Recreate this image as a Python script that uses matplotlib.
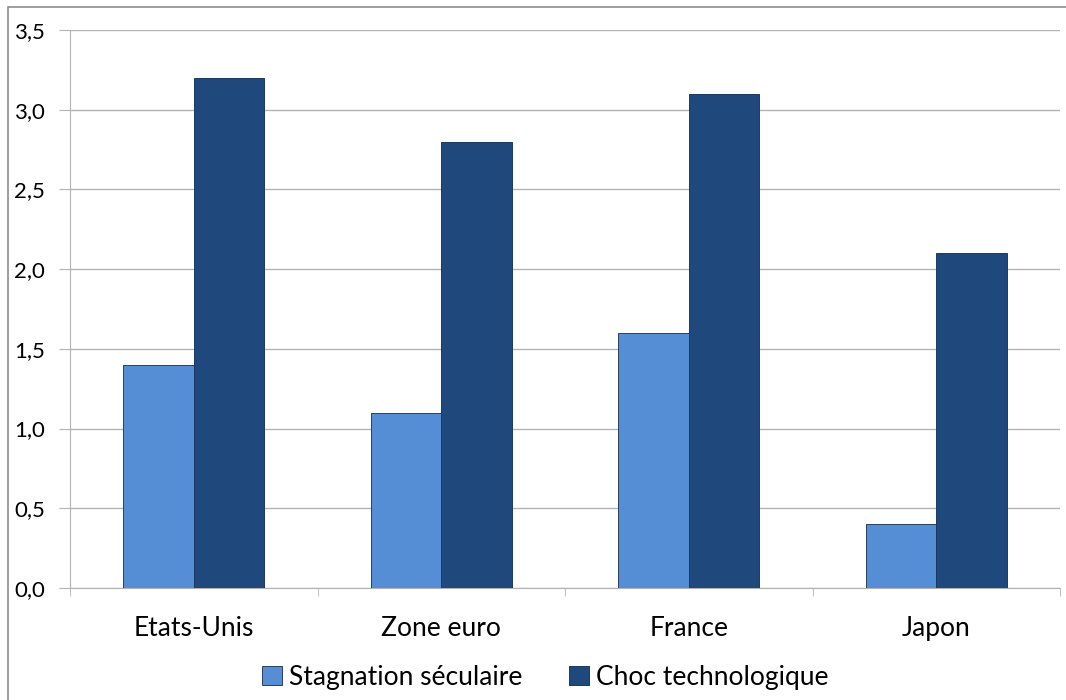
import numpy as np
import matplotlib.pyplot as plt
from matplotlib.patches import Rectangle
from matplotlib.ticker import FuncFormatter, FixedLocator

categories = ["Etats-Unis", "Zone euro", "France", "Japon"]
stagnation = [1.4, 1.1, 1.6, 0.4]
choc = [3.2, 2.8, 3.1, 2.1]
series_names = ["Stagnation séculaire", "Choc technologique"]

plt.rcParams['font.family'] = ['Lato', 'DejaVu Sans']

fig = plt.figure(figsize=(10.66, 7), dpi=100)
ax = fig.add_axes([70 / 1066, 112 / 700, 990 / 1066, 558 / 700])

x = np.arange(len(categories))
w = 1 / 3.5
ax.bar(x - w / 2, stagnation, w, color="#558ED5", edgecolor="#2a3f5f",
       linewidth=0.7, label=series_names[0], zorder=3)
ax.bar(x + w / 2, choc, w, color="#1F497D", edgecolor="#1a3a63",
       linewidth=0.7, label=series_names[1], zorder=3)

ax.set_xlim(-0.5, len(categories) - 0.5)
ax.set_ylim(0, 3.5)
ax.set_yticks(np.arange(0, 3.51, 0.5))
ax.yaxis.set_major_formatter(FuncFormatter(lambda v, p: f"{v:.1f}".replace(".", ",")))
ax.grid(axis="y", color="#b3b3b3", linewidth=1, zorder=0)

ax.set_xticks(x)
ax.set_xticklabels(categories, fontsize=19)
ax.tick_params(axis="x", length=0, pad=20)
ax.xaxis.set_minor_locator(FixedLocator(np.arange(-0.5, len(categories), 1)))
ax.tick_params(axis="x", which="minor", length=6, color="#b3b3b3")
ax.tick_params(axis="y", labelsize=16, length=8, color="#b3b3b3", pad=10)

for s in ["top", "right"]:
    ax.spines[s].set_visible(False)
for s in ["left", "bottom"]:
    ax.spines[s].set_color("#b3b3b3")

ax.legend(loc="upper center", bbox_to_anchor=(0.48, -0.095), ncol=2, frameon=False,
          fontsize=19, handlelength=0.75, handleheight=0.75, handletextpad=0.25,
          columnspacing=1.8)

fig.patches.append(Rectangle((8 / 1066, -0.05), 1.1, 1 - 7 / 700 + 0.05,
                             transform=fig.transFigure, fill=False,
                             edgecolor="#8c8c8c", linewidth=1.2))

fig.savefig("out.png", dpi=100)
